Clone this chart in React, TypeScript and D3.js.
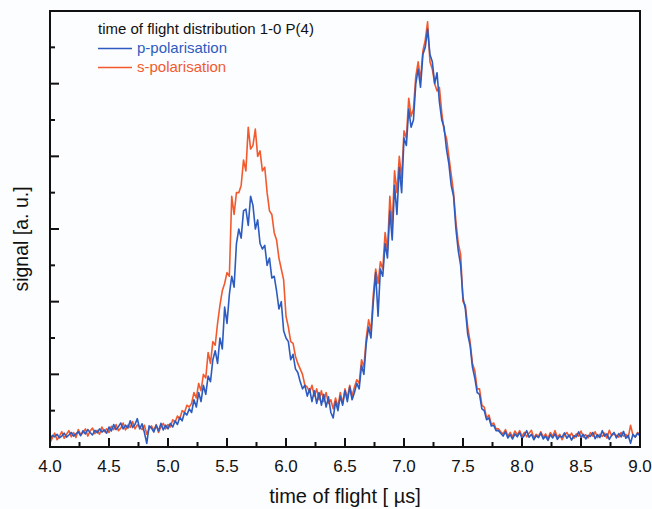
import React from "react";
import * as d3 from "d3";

// time grid: 4.00 µs to 9.00 µs, step 0.02 µs
const T_START = 4.0;
const T_STEP = 0.02;

// p-polarisation (blue), signal in a.u.
const pPolarisation = [
  0.020,0.032,0.028,0.035,0.025,0.030,0.038,0.027,0.033,0.040,
  0.030,0.036,0.042,0.031,0.045,0.036,0.048,0.040,0.033,0.046,
  0.039,0.050,0.041,0.047,0.038,0.055,0.044,0.062,0.048,0.056,
  0.066,0.050,0.060,0.052,0.072,0.054,0.062,0.078,0.050,0.064,
  0.040,0.010,0.058,0.052,0.041,0.060,0.044,0.065,0.047,0.060,
  0.050,0.065,0.055,0.072,0.062,0.082,0.072,0.095,0.088,0.105,
  0.095,0.130,0.110,0.150,0.125,0.170,0.145,0.195,0.180,0.240,
  0.265,0.230,0.300,0.270,0.385,0.340,0.420,0.470,0.440,0.560,
  0.600,0.575,0.650,0.655,0.610,0.690,0.665,0.600,0.625,0.560,
  0.545,0.555,0.500,0.520,0.465,0.470,0.430,0.380,0.400,0.320,
  0.300,0.290,0.240,0.255,0.215,0.205,0.180,0.160,0.170,0.140,
  0.160,0.125,0.155,0.120,0.150,0.115,0.145,0.110,0.138,0.095,
  0.080,0.125,0.100,0.140,0.115,0.155,0.125,0.165,0.130,0.150,
  0.175,0.160,0.225,0.200,0.285,0.330,0.300,0.400,0.480,0.360,
  0.490,0.470,0.560,0.520,0.650,0.570,0.720,0.640,0.770,0.700,
  0.850,0.830,0.930,0.880,0.900,1.000,1.040,0.990,1.080,1.100,
  1.150,1.080,1.060,1.000,1.030,0.950,0.900,0.880,0.820,0.780,
  0.720,0.690,0.600,0.540,0.500,0.410,0.380,0.310,0.280,0.220,
  0.190,0.150,0.145,0.105,0.100,0.075,0.080,0.058,0.060,0.045,
  0.045,0.038,0.030,0.042,0.025,0.034,0.022,0.036,0.028,0.040,
  0.024,0.032,0.045,0.027,0.035,0.020,0.031,0.026,0.038,0.022,
  0.030,0.018,0.034,0.025,0.036,0.021,0.030,0.027,0.039,0.024,
  0.033,0.019,0.031,0.028,0.042,0.026,0.035,0.022,0.032,0.029,
  0.040,0.023,0.034,0.026,0.045,0.030,0.036,0.021,0.033,0.040,
  0.025,0.037,0.028,0.043,0.024,0.032,0.010,0.035,0.027,0.038,
  0.030,
];

// s-polarisation (red), signal in a.u.
const sPolarisation = [
  0.012,0.025,0.038,0.020,0.030,0.042,0.024,0.035,0.045,0.028,
  0.040,0.026,0.048,0.034,0.039,0.050,0.030,0.044,0.052,0.037,
  0.046,0.035,0.055,0.042,0.050,0.040,0.057,0.048,0.062,0.045,
  0.052,0.066,0.047,0.060,0.054,0.070,0.050,0.061,0.055,0.048,
  0.060,0.035,0.050,0.058,0.045,0.062,0.040,0.056,0.065,0.050,
  0.062,0.055,0.075,0.068,0.085,0.078,0.100,0.095,0.115,0.110,
  0.120,0.150,0.135,0.175,0.155,0.200,0.190,0.260,0.230,0.290,
  0.280,0.340,0.390,0.430,0.450,0.480,0.470,0.690,0.640,0.700,
  0.700,0.720,0.790,0.760,0.880,0.820,0.830,0.875,0.800,0.815,
  0.760,0.770,0.700,0.650,0.640,0.590,0.570,0.520,0.490,0.460,
  0.360,0.330,0.290,0.285,0.250,0.230,0.215,0.200,0.170,0.165,
  0.150,0.170,0.140,0.160,0.130,0.155,0.125,0.150,0.120,0.130,
  0.105,0.135,0.110,0.150,0.120,0.160,0.135,0.170,0.140,0.165,
  0.185,0.175,0.240,0.220,0.300,0.350,0.320,0.420,0.490,0.450,
  0.510,0.490,0.590,0.540,0.690,0.610,0.760,0.700,0.800,0.740,
  0.870,0.850,0.960,0.910,0.930,1.020,1.060,1.010,1.090,1.120,
  1.170,1.060,1.040,1.000,0.980,0.990,0.920,0.870,0.850,0.800,
  0.750,0.700,0.620,0.560,0.530,0.400,0.390,0.330,0.290,0.230,
  0.210,0.160,0.160,0.115,0.110,0.080,0.088,0.062,0.066,0.050,
  0.050,0.042,0.036,0.048,0.030,0.040,0.028,0.044,0.033,0.045,
  0.030,0.040,0.028,0.038,0.046,0.025,0.035,0.030,0.042,0.027,
  0.036,0.024,0.040,0.030,0.045,0.026,0.035,0.020,0.033,0.040,
  0.028,0.038,0.024,0.036,0.030,0.044,0.027,0.034,0.025,0.040,
  0.030,0.042,0.026,0.035,0.029,0.038,0.024,0.046,0.031,0.036,
  0.032,0.027,0.040,0.030,0.035,0.025,0.060,0.033,0.028,0.040,
  0.032,
];

const xTickLabels = ["4.0","4.5","5.0","5.5","6.0","6.5","7.0","7.5","8.0","8.5","9.0"];
const legendTitle = "time of flight distribution 1-0 P(4)";
const seriesNames = ["p-polarisation", "s-polarisation"];
const xAxisTitle = "time of flight [ \u00b5s]";
const yAxisTitle = "signal [a. u.]";

const W = 652, H = 509;
const M = { left: 50, right: 640, top: 11, bottom: 447 };
const BLUE = "#2d5bbf";
const RED = "#f25a2e";
const FONT = "'Liberation Sans', Arial, Helvetica, sans-serif";

export default function App() {
  const x = d3.scaleLinear().domain([4, 9]).range([M.left, M.right]);
  const y = d3.scaleLinear().domain([0, 1.2]).range([M.bottom, M.top]);

  const toPts = (vals: number[]) => vals.map((v, i) => [T_START + i * T_STEP, v] as [number, number]);
  const line = d3.line<[number, number]>().x(d => x(d[0])).y(d => y(d[1]));

  const xMajor = d3.range(0, 11).map(i => 4 + i * 0.5);
  const xMinor = d3.range(0, 10).map(i => 4.25 + i * 0.5);
  const yTicks = d3.range(1, 12).map(i => i * 0.1);

  return (
    <svg width={W} height={H} style={{ position: "absolute", left: 0, top: 0, background: "#fcfdfe" }}>
      <rect x={0} y={0} width={W} height={H} fill="#fcfdfe" />
      <defs>
        <clipPath id="plotclip">
          <rect x={M.left} y={M.top} width={M.right - M.left} height={M.bottom - M.top} />
        </clipPath>
      </defs>
      <g clipPath="url(#plotclip)">
        <path d={line(toPts(sPolarisation)) || ""} fill="none" stroke={RED} strokeWidth={1.6} strokeLinejoin="round" />
        <path d={line(toPts(pPolarisation)) || ""} fill="none" stroke={BLUE} strokeWidth={1.6} strokeLinejoin="round" />
      </g>
      {/* frame */}
      <rect x={M.left} y={M.top} width={M.right - M.left} height={M.bottom - M.top} fill="none" stroke="#111" strokeWidth={2} />
      {/* x ticks */}
      {xMajor.map((t, i) => (
        <line key={"xm" + i} x1={x(t)} x2={x(t)} y1={M.bottom} y2={M.bottom - 9} stroke="#111" strokeWidth={2} />
      ))}
      {xMinor.map((t, i) => (
        <line key={"xn" + i} x1={x(t)} x2={x(t)} y1={M.bottom} y2={M.bottom - 5} stroke="#111" strokeWidth={2} />
      ))}
      {xMajor.map((t, i) => (
        <text key={"xl" + i} x={x(t)} y={472} textAnchor="middle" fontFamily={FONT} fontSize={17} fill="#111">
          {xTickLabels[i]}
        </text>
      ))}
      {/* y ticks */}
      {yTicks.map((v, i) => {
        const major = (i + 1) % 2 === 0;
        return (
          <line key={"yt" + i} x1={M.left} x2={M.left + (major ? 9 : 5)} y1={y(v)} y2={y(v)} stroke="#111" strokeWidth={2} />
        );
      })}
      {/* axis titles */}
      <text x={345} y={503} textAnchor="middle" fontFamily={FONT} fontSize={20} fill="#111">{xAxisTitle}</text>
      <text transform={`translate(28,239) rotate(-90)`} textAnchor="middle" fontFamily={FONT} fontSize={19.5} fill="#111">{yAxisTitle}</text>
      {/* legend */}
      <text x={98} y={34} fontFamily={FONT} fontSize={15} fill="#111">{legendTitle}</text>
      <line x1={98} x2={132} y1={48.5} y2={48.5} stroke={BLUE} strokeWidth={1.6} />
      <text x={137} y={53} fontFamily={FONT} fontSize={15} fill={BLUE}>{seriesNames[0]}</text>
      <line x1={98} x2={132} y1={67.5} y2={67.5} stroke={RED} strokeWidth={1.6} />
      <text x={137} y={72} fontFamily={FONT} fontSize={15} fill={RED}>{seriesNames[1]}</text>
    </svg>
  );
}
